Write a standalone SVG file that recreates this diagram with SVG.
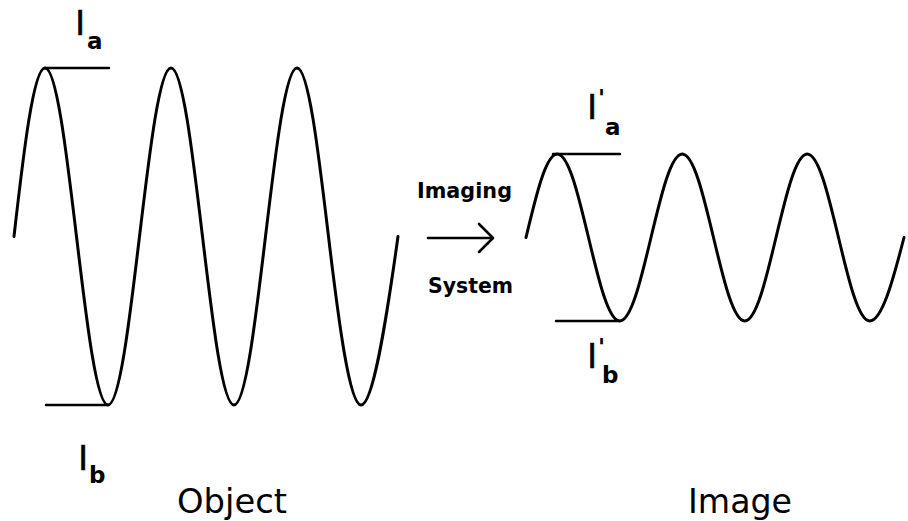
<svg xmlns="http://www.w3.org/2000/svg" width="908" height="521" viewBox="0 0 908 521">
<style>
.wave{fill:none;stroke:#000;stroke-width:3;stroke-linecap:round;stroke-linejoin:round}
.ref{fill:none;stroke:#000;stroke-width:2.5;stroke-linecap:round}
.conn{fill:none;stroke:#000;stroke-width:2.6;stroke-linecap:round;stroke-linejoin:round}
.lbl{font-family:"DejaVu Sans","Liberation Sans",sans-serif;fill:#000}
.big{font-size:34px}
.sym{font-size:33px;stroke:#000;stroke-width:0.6}
.sub{font-size:23px;font-weight:bold}
.mid{font-size:22px;font-weight:bold}
</style>
<rect width="908" height="521" fill="#fff"/>
<g id="object">
<path class="wave" d="M14,236.5 C23.77,150.18 33.6,68 45,68 C56.4,68 66.23,150.18 76.5,236.5 C86.77,322.82 96.6,405 108,405 C119.4,405 129.23,322.82 139.5,236.5 C149.77,150.18 159.6,68 171,68 C182.4,68 192.23,150.18 202.5,236.5 C212.77,322.82 222.6,405 234,405 C245.4,405 255.23,322.82 265.5,236.5 C275.77,150.18 285.6,68 297,68 C308.4,68 318.23,150.18 328.5,236.5 C338.77,322.82 349.6,405 361,405 C373,405 386,322.82 398,236.5"/>
<line class="ref" x1="45" y1="68" x2="109" y2="68"/>
<line class="ref" x1="46" y1="405" x2="108" y2="405"/>
<text class="lbl big" x="177" y="513" textLength="110" lengthAdjust="spacingAndGlyphs">Object</text>
</g>
<g id="label-Ia">
<text class="lbl sym" x="80" y="35" text-anchor="middle">I</text>
<text class="lbl sub" x="87" y="49">a</text>
</g>
<g id="label-Ib">
<text class="lbl sym" x="83" y="470" text-anchor="middle">I</text>
<text class="lbl sub" x="89" y="483">b</text>
</g>
<g id="image">
<path class="wave" d="M526,237.5 C536.19,194.72 545.940,154 557.25,154 C568.56,154 578.31,194.72 588.5,237.5 C598.69,280.28 608.44,321 619.75,321 C631.06,321 640.81,280.28 651,237.5 C661.19,194.72 670.94,154 682.25,154 C693.56,154 703.31,194.72 713.5,237.5 C723.69,280.28 733.44,321 744.75,321 C756.06,321 765.81,280.28 776,237.5 C786.19,194.72 795.94,154 807.25,154 C818.56,154 828.31,194.72 838.5,237.5 C848.69,280.28 858.44,321 869.75,321 C882,321 893,280.28 904,237.5"/>
<line class="ref" x1="553" y1="154" x2="620" y2="154"/>
<line class="ref" x1="556" y1="321" x2="619" y2="321"/>
<text class="lbl big" x="688" y="513" textLength="104" lengthAdjust="spacingAndGlyphs">Image</text>
</g>
<g id="label-Ia-prime">
<text class="lbl sym" x="592" y="119" text-anchor="middle">I</text>
<text class="lbl sub" x="598" y="106">'</text>
<text class="lbl sub" x="605" y="135">a</text>
</g>
<g id="label-Ib-prime">
<text class="lbl sym" x="592" y="368" text-anchor="middle">I</text>
<text class="lbl sub" x="598" y="355">'</text>
<text class="lbl sub" x="602" y="383">b</text>
</g>
<g id="system">
<text class="lbl mid" x="417" y="198" textLength="95" lengthAdjust="spacingAndGlyphs">Imaging</text>
<text class="lbl mid" x="428" y="293" textLength="85" lengthAdjust="spacingAndGlyphs">System</text>
</g>
<g id="connectors">
<line class="conn" x1="428" y1="238" x2="492" y2="238"/>
<polyline class="conn" points="479,224 493,238 479,252"/>
</g>
</svg>
